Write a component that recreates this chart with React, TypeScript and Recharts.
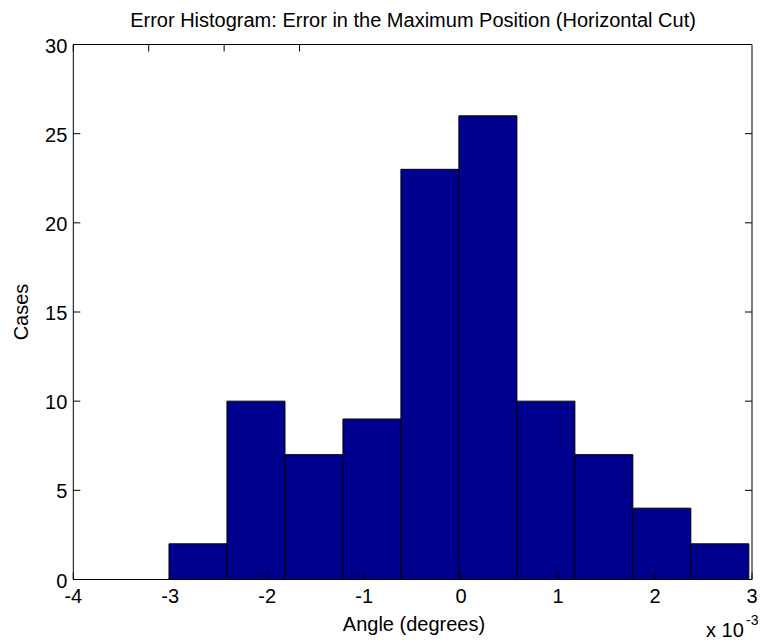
import React from 'react';
import { ComposedChart, Bar, XAxis, YAxis } from 'recharts';

// Histogram bins (centres, in units of 1e-3 degrees) and the number of cases in each
const binCenters = [-2.714, -2.116, -1.518, -0.92, -0.322, 0.276, 0.874, 1.472, 2.07, 2.668];
const caseCounts = [2, 10, 7, 9, 23, 26, 10, 7, 4, 2];
const xTicks = [-4, -3, -2, -1, 0, 1, 2, 3];
const yTicks = [0, 5, 10, 15, 20, 25, 30];

const titleText = 'Error Histogram: Error in the Maximum Position (Horizontal Cut)';
const xLabelText = 'Angle (degrees)';
const yLabelText = 'Cases';

const data = binCenters.map((c, i) => ({ angle: c, cases: caseCounts[i] }));

const W = 764;
const H = 643;
const FONT = '"Liberation Sans", Arial, Helvetica, sans-serif';
const FS = 20;
const TICK = 7;

const BottomTick = (props: any) => {
  const { x, y, payload } = props;
  return (
    <g>
      <line x1={x} y1={y} x2={x} y2={y - TICK} stroke="#000" strokeWidth={1} />
      <text x={x} y={y + 23} textAnchor="middle" fontFamily={FONT} fontSize={FS} fill="#000">
        {payload.value}
      </text>
    </g>
  );
};

const TopTick = (props: any) => {
  const { x, y } = props;
  return <line x1={x} y1={y} x2={x} y2={y + TICK} stroke="#000" strokeWidth={1} />;
};

const LeftTick = (props: any) => {
  const { x, y, payload } = props;
  return (
    <g>
      <line x1={x} y1={y} x2={x + TICK} y2={y} stroke="#000" strokeWidth={1} />
      <text x={x - 6} y={y + 8} textAnchor="end" fontFamily={FONT} fontSize={FS} fill="#000">
        {payload.value}
      </text>
    </g>
  );
};

const RightTick = (props: any) => {
  const { x, y } = props;
  return <line x1={x} y1={y} x2={x - TICK} y2={y} stroke="#000" strokeWidth={1} />;
};

export default function App() {
  return (
    <div style={{ position: 'absolute', left: 0, top: 0, width: W, height: H, background: '#fff' }}>
      <ComposedChart
        width={W}
        height={H}
        data={data}
        margin={{ top: 43.5, right: 11, bottom: 23.5, left: 33.3 }}
        barCategoryGap={0}
        barGap={0}
      >
        <XAxis
          dataKey="angle"
          type="number"
          domain={[-4, 3]}
          ticks={xTicks}
          interval={0}
          allowDataOverflow
          height={40}
          tickSize={0}
          tickMargin={0}
          tickLine={false}
          axisLine={{ stroke: '#000', strokeWidth: 1 }}
          tick={<BottomTick />}
        />
        <XAxis
          xAxisId="top"
          orientation="top"
          type="number"
          domain={[-4, 3]}
          ticks={xTicks}
          interval={0}
          allowDataOverflow
          height={1}
          tickSize={0}
          tickMargin={0}
          tickLine={false}
          axisLine={{ stroke: '#000', strokeWidth: 1 }}
          tick={<TopTick />}
        />
        <YAxis
          type="number"
          domain={[0, 30]}
          ticks={yTicks}
          interval={0}
          allowDataOverflow
          width={40}
          tickSize={0}
          tickMargin={0}
          tickLine={false}
          axisLine={{ stroke: '#000', strokeWidth: 1 }}
          tick={<LeftTick />}
        />
        <YAxis
          yAxisId="right"
          orientation="right"
          type="number"
          domain={[0, 30]}
          ticks={yTicks}
          interval={0}
          allowDataOverflow
          width={1}
          tickSize={0}
          tickMargin={0}
          tickLine={false}
          axisLine={{ stroke: '#000', strokeWidth: 1 }}
          tick={<RightTick />}
        />
        <Bar dataKey="cases" fill="#00008F" stroke="#000" strokeWidth={1} isAnimationActive={false} />
      </ComposedChart>
      <svg
        width={W}
        height={H}
        style={{ position: 'absolute', left: 0, top: 0, pointerEvents: 'none' }}
      >
        <text x={413} y={27} textAnchor="middle" fontFamily={FONT} fontSize={FS} fill="#000">
          {titleText}
        </text>
        <text x={414} y={631} textAnchor="middle" fontFamily={FONT} fontSize={FS} fill="#000">
          {xLabelText}
        </text>
        <text
          x={28}
          y={312}
          textAnchor="middle"
          fontFamily={FONT}
          fontSize={FS}
          fill="#000"
          transform="rotate(-90 28 312)"
        >
          {yLabelText}
        </text>
        <text x={706} y={637} fontFamily={FONT} fontSize={FS} fill="#000">
          x 10
        </text>
        <text x={746} y={625} fontFamily={FONT} fontSize={14} fill="#000">
          -3
        </text>
      </svg>
    </div>
  );
}
